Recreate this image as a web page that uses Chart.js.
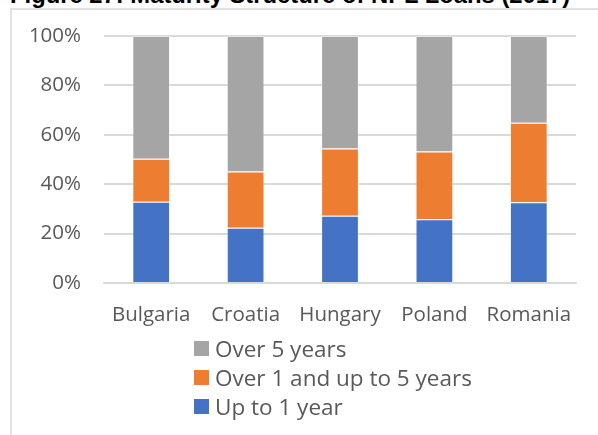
<!DOCTYPE html>
<html>
<head>
<meta charset="utf-8">
<script src="https://cdn.jsdelivr.net/npm/chart.js@4.4.0/dist/chart.umd.min.js"></script>
<style>
  html, body { margin:0; padding:0; background:#fff; width:598px; height:435px; overflow:hidden; position:relative; }
  #title { position:absolute; left:10px; top:-17px; font-family:"Liberation Sans", Arial, sans-serif; font-weight:bold; font-size:23.8px; line-height:24px; color:#000; white-space:nowrap; }
  #frame { position:absolute; left:10px; top:8px; width:620px; height:460px; border:2px solid #e2e2e2; box-sizing:border-box; }
  #wrap { position:absolute; left:0; top:0; width:598px; height:340px; }
  #legend { position:absolute; left:194px; top:334px; font-family:"Open Sans", "Noto Sans", sans-serif; font-size:22.5px; color:#595959; }
  .li { height:29px; line-height:29px; display:flex; align-items:center; }
  .sw { width:15px; height:15px; margin-right:6px; display:inline-block; }
</style>
</head>
<body>
<div id="title">Figure 27: Maturity Structure of NPL Loans (2017)</div>
<div id="frame"></div>
<div id="wrap"><canvas id="c" width="598" height="340"></canvas></div>
<div id="legend"></div>
<script>
const categories = ["Bulgaria", "Croatia", "Hungary", "Poland", "Romania"];
const upTo1Year = [32.9, 22.4, 27.2, 25.8, 32.7];
const over1UpTo5 = [17.4, 22.7, 27.3, 27.4, 32.2];
const over5Years = [49.7, 54.9, 45.5, 46.8, 35.1];
const yTicks = [0, 20, 40, 60, 80, 100];

const datasets = [
  { label: "Up to 1 year", data: upTo1Year, backgroundColor: "#4472C4" },
  { label: "Over 1 and up to 5 years", data: over1UpTo5, backgroundColor: "#ED7D31" },
  { label: "Over 5 years", data: over5Years, backgroundColor: "#A5A5A5" }
].map(d => Object.assign(d, { borderColor: "rgba(255,255,255,0.35)", borderWidth: 1, barPercentage: 0.8, categoryPercentage: 0.5 }));

const tickFont = { family: "'Open Sans', 'Noto Sans', sans-serif", size: 20.5 };

const chart = new Chart(document.getElementById("c"), {
  type: "bar",
  data: { labels: categories, datasets },
  options: {
    responsive: false,
    animation: false,
    layout: { padding: { left: 0, right: 22, top: 36, bottom: 0 } },
    plugins: { legend: { display: false }, tooltip: { enabled: false } },
    scales: {
      x: {
        stacked: true,
        grid: { display: false, drawTicks: false },
        border: { display: true, color: "#d9d9d9", width: 2 },
        ticks: { color: "#595959", font: tickFont, padding: 20, maxRotation: 0, autoSkip: false },
        afterFit: s => { s.height = 57; }
      },
      y: {
        stacked: true,
        min: 0, max: 100,
        afterBuildTicks: s => { s.ticks = yTicks.map(v => ({ value: v })); },
        grid: { color: "#d9d9d9", lineWidth: 2, drawTicks: false },
        border: { display: false },
        ticks: { color: "#595959", font: tickFont, padding: 23, callback: v => v + "%" },
        afterFit: s => { s.width = 104; }
      }
    }
  }
});

const lg = document.getElementById("legend");
chart.data.datasets.slice().reverse().forEach(d => {
  const row = document.createElement("div");
  row.className = "li";
  const sw = document.createElement("span");
  sw.className = "sw";
  sw.style.background = d.backgroundColor;
  row.appendChild(sw);
  row.appendChild(document.createTextNode(d.label));
  lg.appendChild(row);
});
</script>
</body>
</html>
